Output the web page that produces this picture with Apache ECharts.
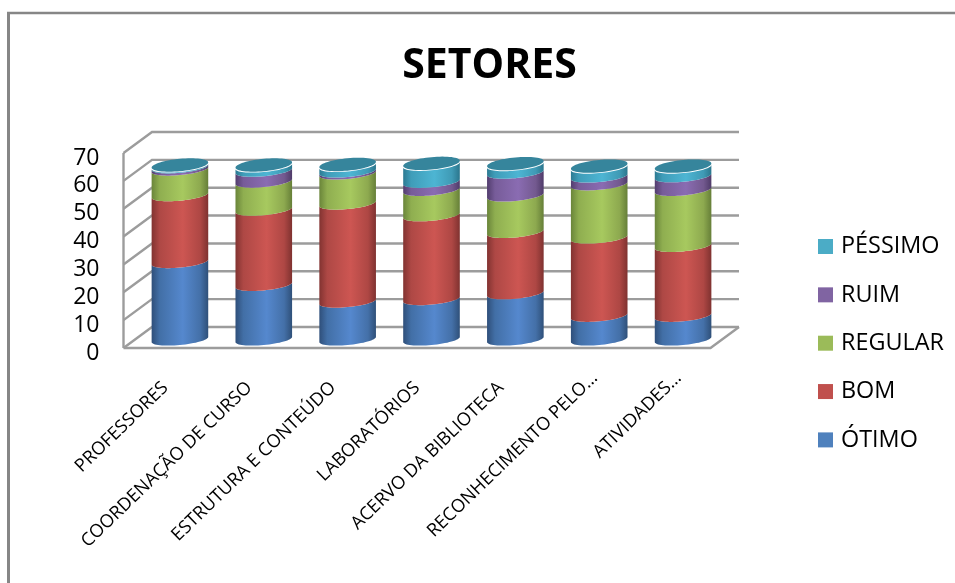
<!DOCTYPE html>
<html><head><meta charset="utf-8">
<style>html,body{margin:0;padding:0;background:#fff}#c{width:955px;height:583px}</style>
<script src="https://cdn.jsdelivr.net/npm/echarts@6/dist/echarts.min.js"></script>
</head><body><div id="c"></div>
<script>
const categories = ['PROFESSORES','COORDENAÇÃO DE CURSO','ESTRUTURA E CONTEÚDO','LABORATÓRIOS','ACERVO DA BIBLIOTECA','RECONHECIMENTO PELO…','ATIVIDADES…'];
const otimo   = [27.8, 19.6, 13.6, 14.5, 16.6, 8.5, 8.5];
const bom     = [24, 27, 35.2, 30.1, 22, 28.1, 25.1];
const regular = [9.2, 10.1, 10.8, 9.1, 13.1, 19.1, 20.1];
const ruim    = [0.8, 3.9, 0.7, 2.9, 8.2, 2.8, 4.9];
const pessimo = [0.3, 1.5, 2, 6.1, 2.7, 3.2, 3.1];
const yTicks  = [0, 10, 20, 30, 40, 50, 60, 70];
const seriesNames = ['ÓTIMO','BOM','REGULAR','RUIM','PÉSSIMO'];
const seriesValues = [otimo, bom, regular, ruim, pessimo];
const flatColors = ['#4F81BD','#C0504D','#9BBB59','#8064A2','#4BACC6'];
const gradients = [
  ['#2F4F7A','#426FA6','#5588CE','#4470A8','#2F5079'],
  ['#823331','#AE4845','#CD5652','#AE4744','#7F3230'],
  ['#6A853A','#8FAE50','#A7C95F','#8DA94F','#667F38'],
  ['#523D6E','#775C99','#8A6CB2','#73598F','#4F3B69'],
  ['#2C7A92','#3F9DB9','#4DB5D3','#3F9AB5','#2B768D']
];
const capColor = '#36859C';
const gridColor = '#9C9C9C';
const frameColor = '#868686';

const depthX = 28.5, depthY = -21;      // wall depth
const midX = 14.5, midY = -8.5;         // cylinders stand mid-depth
const rx = 28.3, ry = 5.5, capRy = 6.2, shear = 2.6;

function arc(cx, cy, from, to, n, b) {
  const pts = [];
  for (let i = 0; i <= n; i++) {
    const t = from + (to - from) * i / n;
    pts.push([cx + rx * Math.cos(t), cy + b * Math.sin(t) - shear * Math.cos(t)]);
  }
  return pts;
}
function cylinderItem(idx) {
  return function (params, api) {
    const c0 = api.coord([api.value(0), api.value(1)]);
    const c1 = api.coord([api.value(0), api.value(2)]);
    const cx = c0[0] + midX, y0 = c0[1] + midY, y1 = c1[1] + midY;
    const lower = arc(cx, y0, Math.PI, 0, 32, ry);
    const upper = arc(cx, y1, 0, Math.PI, 32, ry);
    const g = gradients[idx];
    const children = [{
      type: 'polygon',
      shape: { points: lower.concat(upper) },
      style: { fill: new echarts.graphic.LinearGradient(0, 0, 1, 0, [
        { offset: 0, color: g[0] }, { offset: 0.14, color: g[1] }, { offset: 0.55, color: g[2] },
        { offset: 0.86, color: g[3] }, { offset: 1, color: g[4] }]) }
    }];
    if (idx === seriesValues.length - 1) {
      children.push({
        type: 'polygon',
        shape: { points: arc(cx, y1 - 1.5, 0, Math.PI * 2, 64, capRy) },
        style: { fill: capColor }
      });
    }
    return { type: 'group', children };
  };
}
function wallItem(params, api) {
  const cs = params.coordSys;
  const v = api.value(0);
  const y = api.coord([0, v])[1];
  const xl = cs.x, xr = cs.x + cs.width;
  const style = { stroke: gridColor, lineWidth: 2.4, fill: null };
  const children = [{
    type: 'polyline',
    shape: { points: [[xl, y], [xl + depthX, y + depthY], [xr + depthX, y + depthY]] },
    style
  }];
  if (v === yTicks[0]) {
    children.push({ type: 'polyline', shape: { points: [[xl, y], [xr, y], [xr + depthX, y + depthY]] }, style });
    children.push({ type: 'line', shape: { x1: xl, y1: y, x2: xl, y2: cs.y }, style });
  }
  return { type: 'group', children };
}

const cyl = seriesNames.map((name, idx) => ({
  name, type: 'custom', coordinateSystem: 'cartesian2d', z: 3 + idx,
  itemStyle: { color: flatColors[idx] },
  renderItem: cylinderItem(idx),
  encode: { x: 0, y: [1, 2] },
  data: categories.map((_, c) => {
    let s = 0;
    for (let k = 0; k < idx; k++) s += seriesValues[k][c];
    return [c, s, s + seriesValues[idx][c]];
  })
}));

const chart = echarts.init(document.getElementById('c'), null, { renderer: 'canvas' });
chart.setOption({
  animation: false,
  backgroundColor: '#fff',
  textStyle: { fontFamily: '"Open Sans"' },
  title: {
    text: 'SETORES', left: 484.5, top: 41, textAlign: 'center',
    textStyle: { fontFamily: '"Open Sans"', fontWeight: 'bold', fontSize: 41, color: '#000' }
  },
  legend: {
    orient: 'vertical', left: 813, top: 230, icon: 'rect',
    itemWidth: 15, itemHeight: 15, itemGap: 25.35,
    data: seriesNames.slice().reverse(),
    textStyle: { fontFamily: '"Open Sans"', fontSize: 23.4, color: '#000', lineHeight: 20, padding: [0, 0, 0, 3] },
    selectedMode: false
  },
  grid: { left: 123.5, top: 153, width: 587, height: 195 },
  xAxis: {
    type: 'category',
    data: categories.map(c => c.endsWith('…') ? { value: c, textStyle: { padding: [0, -14, 0, 0] } } : c),
    axisLine: { show: false }, axisTick: { show: false }, splitLine: { show: false },
    axisLabel: { interval: 0, rotate: 44, margin: 37, fontSize: 18.2, color: '#000', fontFamily: '"Open Sans"', hideOverlap: false }
  },
  yAxis: {
    type: 'value', min: 0, max: 70, interval: 10,
    axisLine: { show: false }, axisTick: { show: false }, splitLine: { show: false },
    axisLabel: { margin: 24, fontSize: 23, color: '#000', fontFamily: '"Open Sans"', verticalAlign: 'top', lineHeight: 10 }
  },
  graphic: [
    { type: 'line', shape: { x1: 8.5, y1: 13, x2: 8.5, y2: 583 }, style: { stroke: frameColor, lineWidth: 3 } },
    { type: 'line', shape: { x1: 7, y1: 13, x2: 955, y2: 13 }, style: { stroke: frameColor, lineWidth: 2.5 } }
  ],
  series: [{
    name: 'grade', type: 'custom', coordinateSystem: 'cartesian2d', z: 1,
    renderItem: wallItem, encode: { y: 0 },
    data: yTicks.map(v => [v])
  }].concat(cyl)
});
</script></body></html>
